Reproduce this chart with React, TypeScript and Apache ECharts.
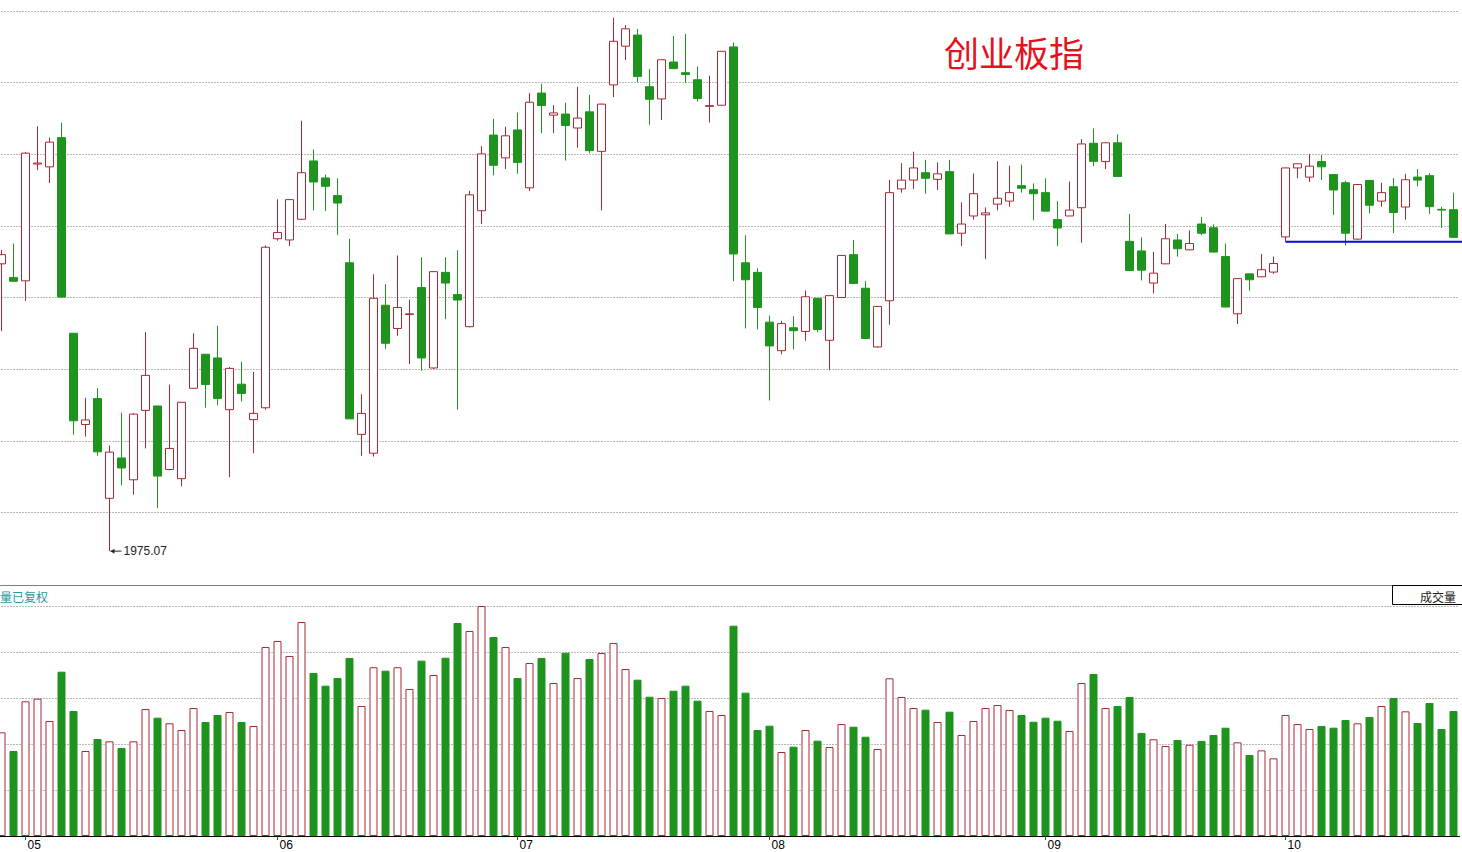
import React, { useEffect, useRef } from 'react';
import * as echarts from 'echarts';

// Month labels on the bottom axis (index of the first trading day shown with the label)
const monthStarts = [2, 23, 43, 64, 87, 107];
const monthNames = ['05', '06', '07', '08', '09', '10'];

// Daily OHLC of 创业板指
const opens = [
  2456.5, 2433.5, 2428.0, 2623.7, 2619.0, 2668.0, 2340.2, 2187.3, 2230.7, 2063.6,
  2131.2, 2094.6, 2210.9, 2218.3, 2111.9, 2096.5, 2248.0, 2305.0, 2298.8, 2212.1,
  2254.8, 2195.4, 2215.3, 2498.5, 2496.5, 2531.2, 2628.9, 2600.4, 2570.8, 2458.3,
  2170.7, 2139.2, 2387.1, 2348.2, 2371.5, 2416.7, 2282.0, 2442.2, 2405.0, 2351.2,
  2545.5, 2672.2, 2634.0, 2680.9, 2583.9, 2742.7, 2705.7, 2707.5, 2684.1, 2711.2,
  2645.0, 2756.3, 2821.3, 2839.8, 2753.3, 2732.8, 2794.7, 2776.8, 2765.0, 2720.4,
  2722.3, 2820.0, 2458.3, 2442.2, 2358.8, 2311.0, 2349.4, 2343.2, 2398.8, 2328.4,
  2400.1, 2471.9, 2415.6, 2317.2, 2394.6, 2582.0, 2596.8, 2609.2, 2598.1, 2611.0,
  2507.8, 2536.7, 2538.6, 2556.5, 2561.6, 2587.5, 2580.7, 2575.8, 2530.6, 2536.7,
  2550.5, 2658.6, 2627.8, 2659.3, 2494.2, 2478.1, 2424.3, 2456.5, 2496.5, 2479.9,
  2523.2, 2517.0, 2468.7, 2372.8, 2439.7, 2434.7, 2442.7, 2501.6, 2617.2, 2601.8,
  2627.8, 2606.1, 2592.4, 2497.9, 2596.2, 2561.6, 2585.7, 2551.7, 2601.8, 2604.3,
  2547.8, 2547.3,
];
const closes = [
  2471.9, 2427.3, 2642.0, 2625.4, 2660.4, 2400.8, 2193.5, 2194.9, 2141.5, 2141.0,
  2114.4, 2204.7, 2269.6, 2100.8, 2147.2, 2224.5, 2314.9, 2254.2, 2230.7, 2281.3,
  2239.3, 2205.9, 2484.3, 2508.9, 2564.1, 2609.2, 2593.7, 2586.4, 2558.4, 2196.7,
  2205.9, 2398.8, 2323.4, 2383.4, 2372.7, 2298.8, 2443.4, 2424.3, 2395.8, 2572.1,
  2640.7, 2621.6, 2671.0, 2626.4, 2727.3, 2721.8, 2709.4, 2688.3, 2700.7, 2646.2,
  2724.1, 2829.4, 2850.3, 2770.6, 2732.2, 2798.4, 2783.6, 2773.7, 2733.5, 2721.6,
  2812.6, 2473.1, 2429.8, 2383.4, 2319.0, 2356.3, 2344.5, 2401.3, 2346.4, 2403.2,
  2470.6, 2423.6, 2331.4, 2385.2, 2575.8, 2596.8, 2617.2, 2599.9, 2607.3, 2506.6,
  2523.2, 2574.0, 2541.8, 2566.4, 2575.8, 2583.2, 2574.0, 2544.8, 2516.5, 2546.6,
  2657.4, 2628.3, 2659.3, 2602.9, 2445.2, 2445.9, 2440.9, 2498.5, 2481.8, 2490.5,
  2507.8, 2476.2, 2384.1, 2431.7, 2429.8, 2446.6, 2457.0, 2617.2, 2624.1, 2620.2,
  2619.0, 2580.2, 2507.8, 2589.4, 2554.7, 2575.8, 2542.5, 2597.4, 2596.8, 2552.3,
  2546.6, 2500.9,
];
const lows = [
  2343.9, 2426.8, 2394.6, 2613.5, 2591.9, 2400.0, 2170.1, 2167.0, 2134.8, 1975.07,
  2085.4, 2069.8, 2147.2, 2047.0, 2110.5, 2083.6, 2248.0, 2215.3, 2219.5, 2099.0,
  2225.7, 2139.2, 2212.1, 2495.3, 2486.1, 2530.0, 2546.1, 2544.8, 2504.6, 2196.7,
  2134.8, 2133.5, 2314.2, 2335.8, 2288.2, 2277.1, 2280.2, 2363.6, 2212.1, 2350.0,
  2523.2, 2604.8, 2615.4, 2607.3, 2578.3, 2675.4, 2675.4, 2629.6, 2651.2, 2642.0,
  2546.1, 2736.0, 2797.9, 2761.3, 2689.6, 2697.6, 2783.6, 2759.5, 2728.5, 2693.3,
  2721.8, 2427.3, 2348.2, 2346.4, 2227.5, 2305.0, 2313.0, 2327.7, 2342.0, 2278.3,
  2399.5, 2423.6, 2331.4, 2316.0, 2354.4, 2575.8, 2582.0, 2574.0, 2580.2, 2506.6,
  2486.1, 2530.6, 2464.5, 2546.1, 2552.3, 2575.8, 2529.4, 2544.8, 2486.1, 2536.7,
  2491.7, 2620.2, 2615.4, 2602.9, 2444.7, 2428.7, 2406.9, 2456.0, 2468.7, 2479.5,
  2504.6, 2475.4, 2384.1, 2355.6, 2411.2, 2434.4, 2439.7, 2493.5, 2600.0, 2593.7,
  2596.8, 2538.1, 2487.3, 2497.2, 2541.1, 2552.3, 2507.8, 2530.6, 2586.4, 2540.0,
  2516.5, 2499.7,
];
const highs = [
  2479.9, 2490.5, 2643.8, 2687.1, 2668.0, 2693.3, 2340.5, 2231.9, 2248.0, 2152.1,
  2207.3, 2206.4, 2342.0, 2218.3, 2254.2, 2224.5, 2340.2, 2305.3, 2352.6, 2283.5,
  2292.5, 2275.1, 2487.3, 2564.6, 2564.6, 2696.3, 2648.2, 2606.1, 2600.0, 2498.5,
  2238.1, 2439.0, 2422.4, 2470.6, 2396.5, 2467.5, 2444.4, 2467.5, 2479.3, 2578.8,
  2653.7, 2699.5, 2686.4, 2710.0, 2742.7, 2758.1, 2722.3, 2726.6, 2753.3, 2739.7,
  2725.1, 2868.9, 2856.5, 2850.3, 2783.0, 2798.9, 2838.6, 2841.8, 2787.3, 2771.9,
  2813.1, 2827.5, 2504.1, 2448.9, 2369.8, 2361.1, 2368.6, 2411.9, 2398.8, 2404.2,
  2471.2, 2496.5, 2427.3, 2385.7, 2597.4, 2625.2, 2644.4, 2630.8, 2626.4, 2630.8,
  2559.7, 2608.0, 2551.0, 2628.3, 2620.9, 2622.7, 2591.2, 2600.0, 2561.6, 2594.4,
  2665.5, 2683.4, 2659.8, 2673.5, 2539.9, 2500.9, 2476.8, 2523.2, 2506.6, 2512.6,
  2534.9, 2522.5, 2490.5, 2432.2, 2439.7, 2473.1, 2468.7, 2617.8, 2624.6, 2640.7,
  2638.8, 2606.1, 2595.6, 2589.9, 2596.8, 2592.4, 2600.4, 2607.3, 2615.4, 2608.0,
  2552.3, 2575.8,
];
// 成交量 (relative units)
const volumes = [
  112.7, 92.4, 146.4, 149.3, 125.0, 178.6, 135.9, 92.4, 105.4, 102.9,
  95.7, 102.9, 138.0, 128.6, 122.5, 115.2, 139.1, 123.9, 131.5, 134.8,
  123.9, 119.6, 205.4, 212.0, 195.7, 232.6, 177.2, 163.4, 171.7, 193.5,
  141.3, 183.4, 179.7, 183.4, 159.8, 190.6, 175.0, 193.8, 231.5, 222.8,
  250.0, 216.3, 205.4, 171.7, 188.0, 193.5, 166.3, 199.2, 171.7, 192.4,
  198.9, 209.8, 181.5, 169.9, 151.4, 150.0, 157.9, 163.4, 147.1, 135.9,
  131.5, 228.6, 155.8, 115.2, 119.9, 91.3, 97.1, 115.2, 103.6, 96.7,
  121.7, 118.8, 107.9, 94.6, 171.4, 151.1, 139.1, 137.3, 123.9, 135.1,
  109.8, 125.0, 139.1, 142.4, 137.0, 131.5, 124.2, 128.6, 125.3, 114.1,
  166.3, 176.1, 139.1, 141.3, 151.1, 112.0, 105.1, 97.8, 104.4, 99.2,
  103.3, 109.8, 117.7, 101.8, 88.0, 93.1, 84.4, 131.5, 121.7, 116.3,
  119.6, 117.7, 126.1, 122.5, 129.3, 141.3, 150.0, 135.5, 122.8, 144.6,
  116.3, 135.9,
];

const lowLabelIndex = 9; // 最低 1975.07
const supportIndex = 107; // 蓝色支撑线起点

const UP_COLOR = '#a82834';
const DOWN_COLOR = '#1e941e';
const GRID_COLOR = '#707070';

export default function App() {
  const ref = useRef<HTMLDivElement>(null);

  useEffect(() => {
    if (!ref.current) return;
    const chart = echarts.init(ref.current, null, { renderer: 'svg' });
    const showMonth = (i: number) => monthStarts.indexOf(i) >= 0;
    const categories = opens.map((_, i) => {
      const m = monthStarts.indexOf(i);
      return m >= 0 ? monthNames[m] : 'd' + i;
    });
    const candleData = opens.map((o, i) => [o, closes[i], lows[i], highs[i]]);
    const volData = volumes.map((v, i) => ({
      value: v,
      itemStyle:
        closes[i] >= opens[i]
          ? { color: '#ffffff', borderColor: UP_COLOR, borderWidth: 1 }
          : { color: DOWN_COLOR, borderColor: DOWN_COLOR, borderWidth: 1 },
    }));

    chart.setOption({
      animation: false,
      backgroundColor: '#ffffff',
      textStyle: { fontFamily: 'Liberation Sans, Arial, sans-serif' },
      grid: [
        { left: -4.5, width: 1464, top: 0, height: 584, containLabel: false, outerBoundsMode: 'none' },
        { left: -4.5, width: 1464, top: 606, height: 230, containLabel: false, outerBoundsMode: 'none' },
      ],
      xAxis: [
        {
          type: 'category',
          gridIndex: 0,
          data: categories,
          boundaryGap: true,
          axisLine: { show: false },
          axisTick: { show: false },
          axisLabel: { show: false },
          splitLine: { show: false },
        },
        {
          type: 'category',
          gridIndex: 1,
          data: categories,
          boundaryGap: true,
          axisLine: { show: true, lineStyle: { color: '#000', width: 1 } },
          axisTick: {
            show: true,
            alignWithLabel: true,
            interval: (i: number) => showMonth(i),
            length: 4,
            lineStyle: { color: '#444' },
          },
          axisLabel: {
            show: true,
            interval: (i: number) => showMonth(i),
            align: 'left',
            margin: 3,
            padding: [0, 0, 0, 2],
            fontSize: 12,
            color: '#000',
          },
          splitLine: { show: false },
        },
      ],
      yAxis: [
        {
          type: 'value',
          gridIndex: 0,
          min: 1920,
          max: 2898.6,
          interval: 120,
          axisLine: { show: false },
          axisTick: { show: false },
          axisLabel: { show: false },
          splitLine: {
            show: true,
            showMinLine: false,
            showMaxLine: false,
            lineStyle: { color: GRID_COLOR, type: [1, 2], width: 1 },
          },
        },
        {
          type: 'value',
          gridIndex: 1,
          min: 0,
          max: 250,
          interval: 50,
          axisLine: { show: false },
          axisTick: { show: false },
          axisLabel: { show: false },
          splitLine: {
            show: true,
            showMinLine: false,
            showMaxLine: true,
            lineStyle: { color: GRID_COLOR, type: [1, 2], width: 1 },
          },
        },
      ],
      series: [
        {
          type: 'candlestick',
          name: '创业板指',
          xAxisIndex: 0,
          yAxisIndex: 0,
          data: candleData,
          barWidth: 8,
          itemStyle: {
            color: '#ffffff',
            color0: DOWN_COLOR,
            borderColor: UP_COLOR,
            borderColor0: DOWN_COLOR,
            borderWidth: 1,
          },
        },
        {
          type: 'bar',
          name: '成交量',
          xAxisIndex: 1,
          yAxisIndex: 1,
          data: volData,
          barWidth: 8,
        },
      ],
    });

    const lowPt = chart.convertToPixel({ gridIndex: 0 }, [lowLabelIndex, lows[lowLabelIndex]]) as number[];
    const supPt = chart.convertToPixel({ gridIndex: 0 }, [supportIndex, lows[supportIndex]]) as number[];
    const W = 1462;

    chart.setOption({
      graphic: [
        {
          id: 'sep',
          type: 'line',
          shape: { x1: 0, y1: 585.5, x2: W, y2: 585.5 },
          style: { stroke: '#808080', lineWidth: 1 },
          z: 10,
        },
        {
          id: 'volbox',
          type: 'rect',
          shape: { x: 1392.5, y: 585.5, width: 80, height: 19 },
          style: { fill: '#ffffff', stroke: '#000000', lineWidth: 1 },
          z: 11,
        },
        {
          id: 'voltext',
          type: 'text',
          x: 1456,
          y: 596,
          style: {
            text: '成交量',
            fill: '#222222',
            fontSize: 12,
            fontFamily: 'Noto Sans CJK SC',
            textAlign: 'right',
            align: 'right',
            textVerticalAlign: 'middle',
            verticalAlign: 'middle',
          },
          z: 12,
        },
        {
          id: 'fq',
          type: 'text',
          x: 0,
          y: 596,
          style: {
            text: '量已复权',
            fill: '#1f9aa0',
            fontSize: 12,
            fontFamily: 'Noto Sans CJK SC',
            textAlign: 'left',
            align: 'left',
            textVerticalAlign: 'middle',
            verticalAlign: 'middle',
          },
          z: 12,
        },
        {
          id: 'title',
          type: 'text',
          x: 944,
          y: 51,
          style: {
            text: '创业板指',
            fill: '#e5121b',
            fontSize: 35,
            fontFamily: 'Noto Sans CJK SC',
            textAlign: 'left',
            align: 'left',
            textVerticalAlign: 'middle',
            verticalAlign: 'middle',
          },
          z: 12,
        },
        {
          id: 'lowline',
          type: 'line',
          shape: { x1: lowPt[0] + 1, y1: lowPt[1], x2: lowPt[0] + 12, y2: lowPt[1] },
          style: { stroke: '#222222', lineWidth: 1 },
          z: 12,
        },
        {
          id: 'lowarrow',
          type: 'polygon',
          shape: {
            points: [
              [lowPt[0] + 1, lowPt[1]],
              [lowPt[0] + 5, lowPt[1] - 2.5],
              [lowPt[0] + 5, lowPt[1] + 2.5],
            ],
          },
          style: { fill: '#222222' },
          z: 12,
        },
        {
          id: 'lowtext',
          type: 'text',
          x: lowPt[0] + 14,
          y: lowPt[1],
          style: {
            text: lows[lowLabelIndex].toFixed(2),
            fill: '#222222',
            fontSize: 12,
            fontFamily: 'Liberation Sans, Arial, sans-serif',
            textAlign: 'left',
            align: 'left',
            textVerticalAlign: 'middle',
            verticalAlign: 'middle',
          },
          z: 12,
        },
        {
          id: 'support',
          type: 'line',
          shape: { x1: supPt[0], y1: supPt[1], x2: W, y2: supPt[1] },
          style: { stroke: '#0a0ae0', lineWidth: 2 },
          z: 12,
        },
      ],
    });

    return () => {
      chart.dispose();
    };
  }, []);

  return (
    <div
      ref={ref}
      style={{ position: 'fixed', left: 0, top: 0, width: 1462, height: 852, background: '#ffffff' }}
    />
  );
}
